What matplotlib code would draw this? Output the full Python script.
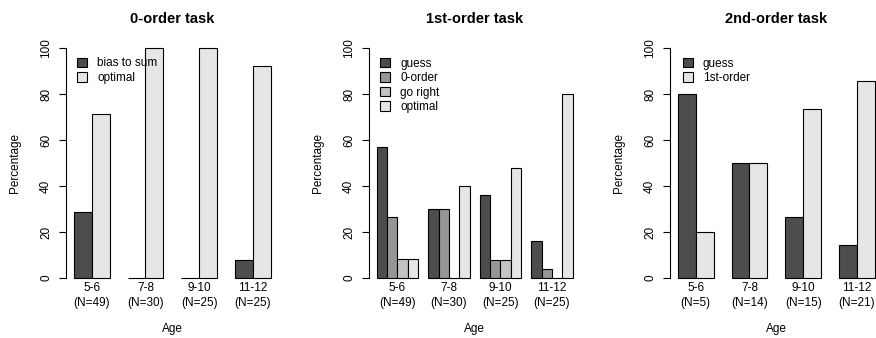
import numpy as np
import matplotlib
matplotlib.use("Agg")
import matplotlib.pyplot as plt

plt.rcParams['font.family'] = ['Liberation Sans', 'DejaVu Sans']

# age groups and sample sizes per task
ages = ["5-6", "7-8", "9-10", "11-12"]
n_0order = [49, 30, 25, 25]
n_1order = [49, 30, 25, 25]
n_2order = [5, 14, 15, 21]

# 0-order task (percent)
labels_0 = ["bias to sum", "optimal"]
bias_to_sum = [28.6, 0, 0, 8]
optimal_0 = [71.4, 100, 100, 92]

# 1st-order task (percent)
labels_1 = ["guess", "0-order", "go right", "optimal"]
guess_1 = [57.1, 30, 36, 16]
zero_order_1 = [26.5, 30, 8, 4]
go_right_1 = [8.2, 0, 8, 0]
optimal_1 = [8.2, 40, 48, 80]

# 2nd-order task (percent)
labels_2 = ["guess", "1st-order"]
guess_2 = [80, 50, 26.7, 14.3]
first_order_2 = [20, 50, 73.3, 85.7]

cols2 = ["#4D4D4D", "#E6E6E6"]
cols4 = ["#4D4D4D", "#969696", "#C3C3C3", "#E6E6E6"]

W, H = 876, 338
fig = plt.figure(figsize=(W / 100, H / 100), dpi=100)
fs = 8.5


def barpanel(left_px, unit_px, title, series, labels, ns, cols, leg_dx):
    nb = len(series)
    k = nb + 1
    lo = 1 - 0.04 * (k * len(ages) - 1)
    hi = k * len(ages) + 0.04 * (k * len(ages) - 1)
    width_px = (hi - lo) * unit_px
    bottom_px, top_px = 278, 48
    ax = fig.add_axes([left_px / W, (H - bottom_px) / H,
                       width_px / W, (bottom_px - top_px) / H])
    for i, (vals, c, lab) in enumerate(zip(series, cols, labels)):
        x = np.arange(len(ages)) * k + 1 + i
        ax.bar(x, vals, width=1, align="edge", color=c, edgecolor="black",
               linewidth=0.8, label=lab, clip_on=False)
    ax.set_xlim(lo, hi)
    ax.set_ylim(0, 100)
    for s in ["top", "right", "bottom"]:
        ax.spines[s].set_visible(False)
    ax.spines["left"].set_linewidth(0.8)
    ax.spines["left"].set_bounds(0, 100)
    ax.set_yticks([0, 20, 40, 60, 80, 100])
    ax.tick_params(axis="y", length=5, width=0.8, pad=5, labelsize=fs)
    for t in ax.get_yticklabels():
        t.set_rotation(90)
        t.set_va("center")
    centers = np.arange(len(ages)) * k + 1 + nb / 2
    ax.set_xticks(centers)
    ax.set_xticklabels(["%s\n(N=%d)" % (a, n) for a, n in zip(ages, ns)],
                       linespacing=1.3)
    ax.tick_params(axis="x", length=0, pad=3, labelsize=fs)
    ax.text(0.5, 1 + 29 / 230, title, transform=ax.transAxes, ha="center",
            va="center", fontsize=10.5, fontweight="bold")
    ax.set_ylabel("Percentage", fontsize=fs)
    ax.yaxis.set_label_coords(-45 / width_px, 0.5)
    ax.set_xlabel("Age", fontsize=fs)
    ax.xaxis.set_label_coords(0.5, -45 / 230)
    ax.legend(loc="upper left", bbox_to_anchor=(leg_dx / width_px, 1 - 9.5 / 230),
              frameon=False, fontsize=fs, handlelength=0.85, handleheight=0.85,
              handletextpad=0.85, labelspacing=0.22, borderaxespad=0,
              borderpad=0)
    return ax


barpanel(66, 17.9, "0-order task", [bias_to_sum, optimal_0], labels_0,
         n_0order, cols2, 11)
barpanel(369, 10.3, "1st-order task",
         [guess_1, zero_order_1, go_right_1, optimal_1], labels_1,
         n_1order, cols4, 11)
barpanel(670, 17.9, "2nd-order task", [guess_2, first_order_2], labels_2,
         n_2order, cols2, 12.7)

fig.savefig("out.png", dpi=100)
